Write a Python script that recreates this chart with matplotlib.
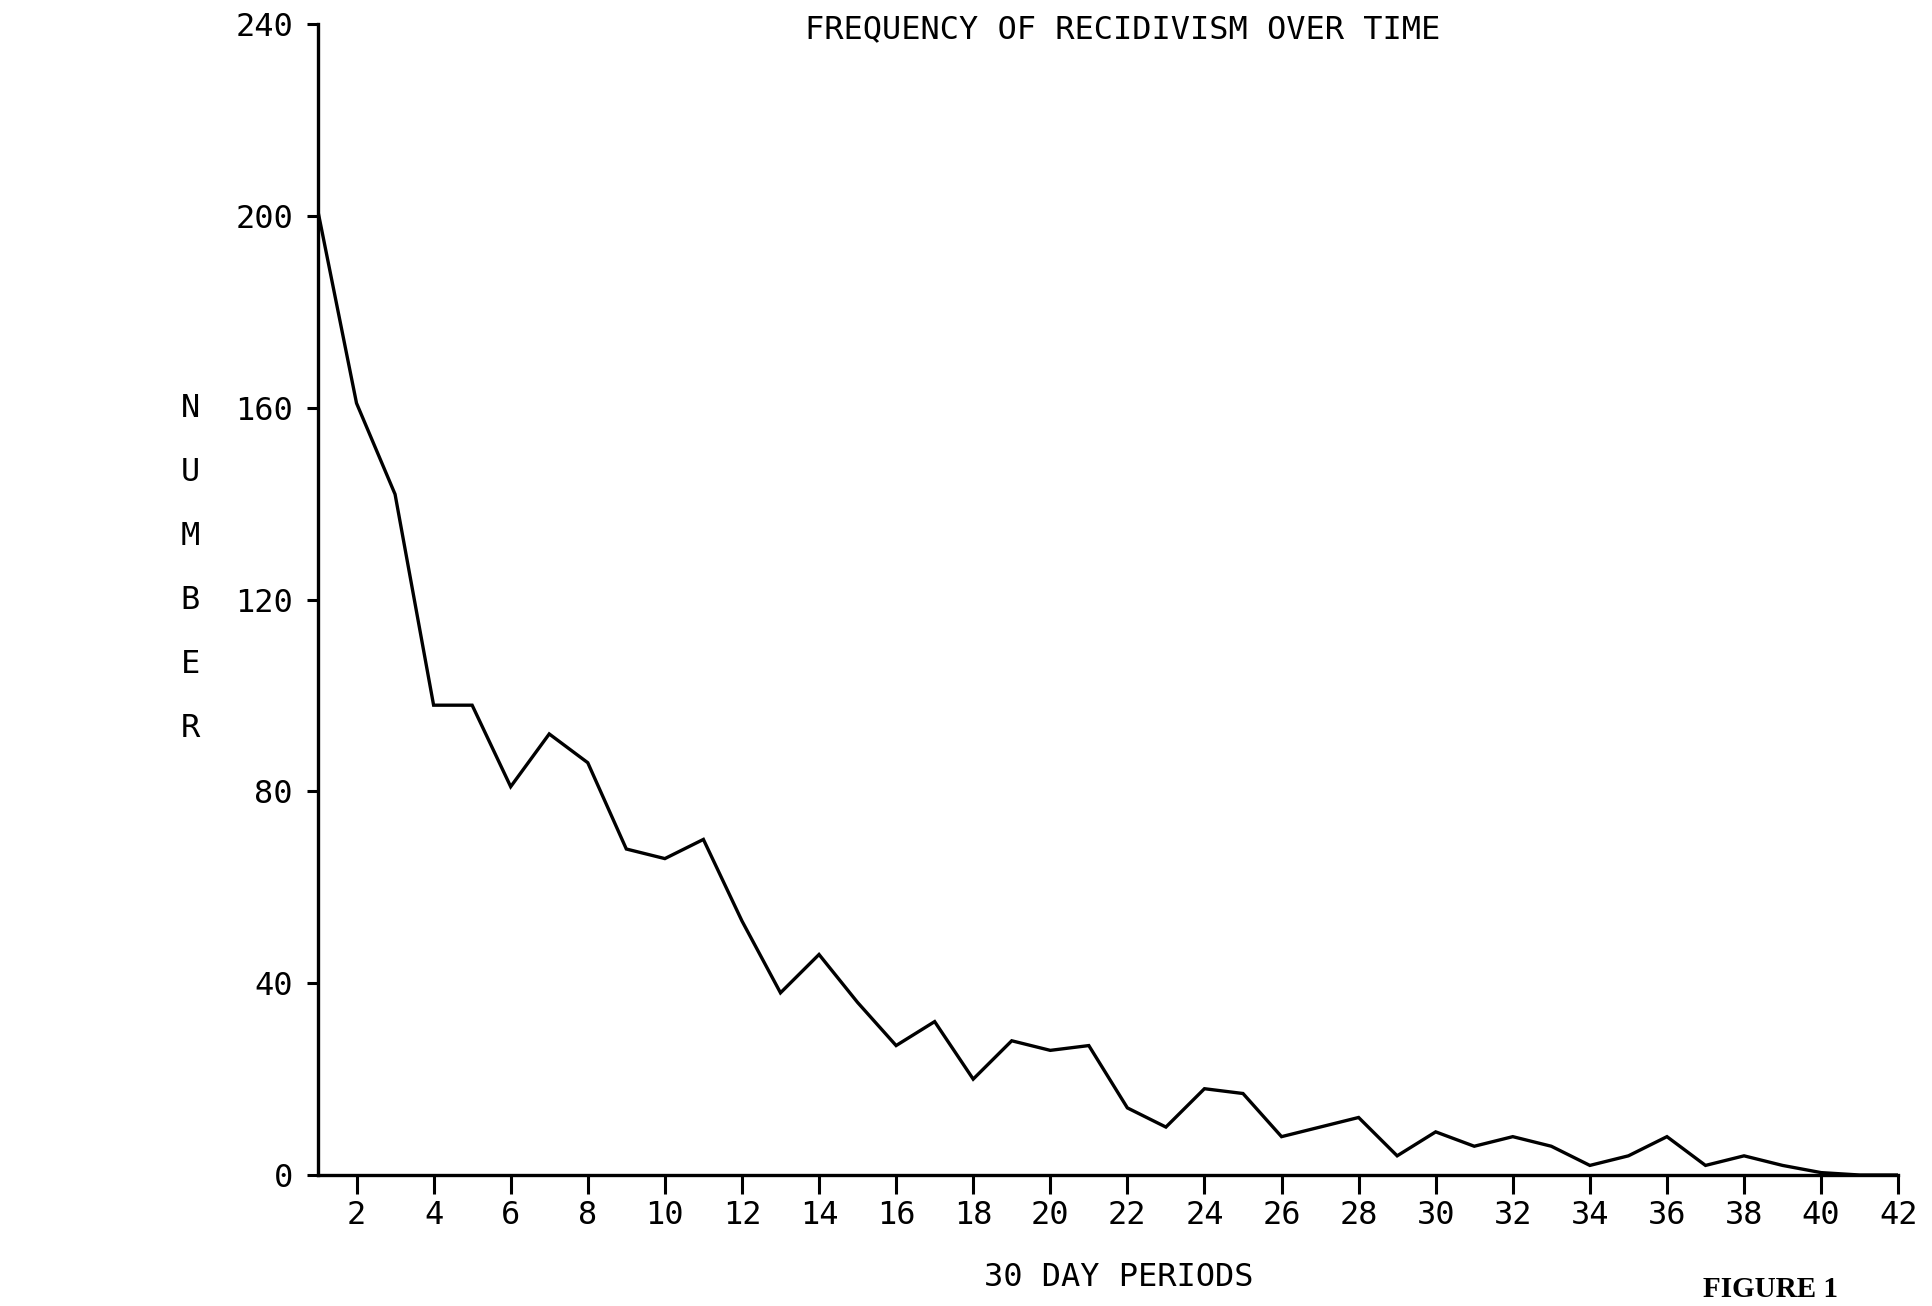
"""Frequency of recidivism over time, redrawn from a scanned line plot."""

import matplotlib

matplotlib.use("Agg")
import matplotlib.pyplot as plt

# values, one per 30 day period
periods = list(range(1, 43))
counts = [
    201, 161, 142, 98, 98, 81, 92, 86, 68, 66,
    70, 53, 38, 46, 36, 27, 32, 20, 28, 26,
    27, 14, 10, 18, 17, 8, 10, 12, 4, 9,
    6, 8, 6, 2, 4, 8, 2, 4, 2, 0.5,
    0, 0,
]
y_ticks = [0, 40, 80, 120, 160, 200, 240]
x_ticks = list(range(2, 43, 2))

title = "FREQUENCY OF RECIDIVISM OVER TIME"
x_label = "30 DAY PERIODS"
y_label = "NUMBER"
font = "DejaVu Sans Mono"

plt.rcParams["font.family"] = font

fig = plt.figure(figsize=(19.33, 13.06), dpi=100)
ax = fig.add_axes([0.1645, 0.1003, 0.8175, 0.881])

ax.plot(periods, counts, color="black", linewidth=2.4, solid_joinstyle="miter")

ax.set_xlim(1, 42)
ax.set_ylim(0, 240)
ax.set_xticks(x_ticks)
ax.set_yticks(y_ticks)
ax.tick_params(axis="x", direction="out", length=14, width=2.2, pad=4,
               labelsize=23, colors="black")
ax.tick_params(axis="y", direction="out", length=8, width=2.2, pad=10,
               labelsize=23, colors="black")

for side in ("top", "right"):
    ax.spines[side].set_visible(False)
for side in ("left", "bottom"):
    ax.spines[side].set_linewidth(2.4)
    ax.spines[side].set_color("black")

fig.text(0.581, 0.977, title, ha="center", va="center", fontsize=23)
fig.text(0.579, 0.022, x_label, ha="center", va="center", fontsize=23)
fig.text(0.0985, 0.5647, "\n".join(y_label), ha="center", va="center",
         fontsize=23, linespacing=2.37)
fig.text(0.916, 0.002, "FIGURE 1", ha="center", va="bottom", fontsize=21,
         family="Liberation Serif", fontweight="bold")

fig.savefig("out.png", dpi=100)
